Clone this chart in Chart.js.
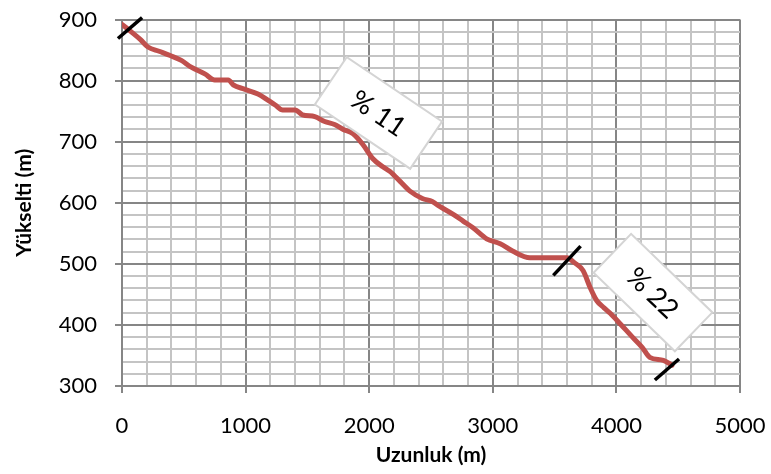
<!DOCTYPE html>
<html>
<head>
<meta charset="utf-8">
<script src="https://cdn.jsdelivr.net/npm/chart.js@4"></script>
<style>
  html, body { margin: 0; padding: 0; background: #fff; }
  #wrap { width: 771px; height: 474px; }
</style>
</head>
<body>
<div id="wrap"><canvas id="myChart"></canvas></div>
<script>
const distance = [0, 80, 150, 210, 300, 390, 480, 560, 670, 750, 860, 900, 990, 1100, 1180, 1240, 1300, 1400, 1460, 1560, 1640, 1720, 1790, 1870, 1950, 2030, 2110, 2170, 2250, 2330, 2430, 2510, 2570, 2680, 2760, 2840, 2950, 3060, 3160, 3300, 3600, 3660, 3730, 3790, 3840, 3900, 3950, 4030, 4130, 4210, 4270, 4380, 4450]
const elevation = [892, 879, 867, 855, 848, 841, 833, 822, 811, 801, 801, 793, 786, 778, 768, 760, 752, 752, 744, 741, 733, 728, 720, 713, 695, 672, 659, 651, 635, 619, 607, 602, 594, 581, 570, 559, 541, 533, 521, 510, 510, 502, 489, 460, 440, 428, 419, 402, 380, 363, 347, 342, 334]

const markerDistance = [65, 3600, 4409]
const markerElevation = [886, 505, 327]

const noteTexts = ["% 11", "% 22"]
const noteDistance = [2075, 4296]
const noteElevation = [747, 453]
const noteAngles = [34, 44]

const xTitle = "Uzunluk (m)"
const yTitle = "Yükselti (m)"

const lineColor = '#c0504d'
const majorGrid = '#868686'
const minorGrid = '#c4c4c4'
const tickFont = { family: 'Lato', size: 22 }
const titleFont = { family: 'Lato', size: 21, weight: 'bold' }

const notesPlugin = {
  id: 'notes',
  afterDatasetsDraw(chart) {
    const ctx = chart.ctx
    const xs = chart.scales.x
    const ys = chart.scales.y
    const sizes = [[115, 57], [113, 54]]
    noteTexts.forEach((txt, i) => {
      const cx = xs.getPixelForValue(noteDistance[i])
      const cy = ys.getPixelForValue(noteElevation[i])
      const w = sizes[i][0], h = sizes[i][1]
      ctx.save()
      ctx.translate(cx, cy)
      ctx.rotate(noteAngles[i] * Math.PI / 180)
      ctx.fillStyle = '#fff'
      ctx.strokeStyle = '#d4d4d4'
      ctx.lineWidth = 2
      ctx.fillRect(-w / 2, -h / 2, w, h)
      ctx.strokeRect(-w / 2, -h / 2, w, h)
      ctx.fillStyle = '#000'
      ctx.font = '27px Lato'
      ctx.textAlign = 'center'
      ctx.textBaseline = 'middle'
      ctx.fillText(txt, 0, 1)
      ctx.restore()
    })
  }
}

new Chart("myChart", {
  type: "line",
  data: {
    datasets: [{
      data: distance.map((d, i) => ({ x: d, y: elevation[i] })),
      borderColor: lineColor,
      borderWidth: 5,
      borderJoinStyle: 'round',
      borderCapStyle: 'round',
      pointRadius: 0,
      cubicInterpolationMode: 'monotone',
      order: 2
    }, {
      data: markerDistance.map((d, i) => ({ x: d, y: markerElevation[i] })),
      showLine: false,
      pointStyle: 'line',
      pointRadius: [16, 20, 16],
      pointRotation: [-41, -47, -41],
      pointBorderColor: '#000',
      pointBorderWidth: 3.5,
      clip: false,
      order: 1
    }]
  },
  options: {
    responsive: true,
    maintainAspectRatio: false,
    animation: false,
    layout: { padding: { left: 12, top: 17, right: 31, bottom: 6 } },
    plugins: {
      legend: { display: false },
      tooltip: { enabled: false }
    },
    scales: {
      x: {
        type: 'linear',
        min: 0,
        max: 5000,
        afterFit: scale => {
          scale.height = 82
          scale.paddingLeft = 0
          scale.paddingRight = 0
        },
        ticks: {
          stepSize: 200,
          autoSkip: false,
          maxRotation: 0,
          padding: 20,
          color: '#000',
          font: tickFont,
          callback: v => v % 1000 === 0 ? v : ''
        },
        grid: {
          color: c => c.tick && c.tick.value % 1000 === 0 ? majorGrid : minorGrid,
          lineWidth: 2,
          tickLength: 7,
          tickColor: c => c.tick && c.tick.value % 1000 === 0 ? majorGrid : 'rgba(0,0,0,0)'
        },
        border: { color: majorGrid, width: 2 },
        title: { display: true, text: xTitle, color: '#000', font: titleFont, padding: 0 }
      },
      y: {
        min: 300,
        max: 900,
        afterFit: scale => {
          scale.width = 110
          scale.paddingTop = 0
          scale.paddingBottom = 0
        },
        ticks: {
          stepSize: 20,
          autoSkip: false,
          padding: 18,
          color: '#000',
          font: tickFont,
          callback: v => v % 100 === 0 ? v : ''
        },
        grid: {
          color: c => c.tick && c.tick.value % 100 === 0 ? majorGrid : minorGrid,
          lineWidth: 2,
          tickLength: 7,
          tickColor: c => c.tick && c.tick.value % 100 === 0 ? majorGrid : 'rgba(0,0,0,0)'
        },
        border: { color: majorGrid, width: 2 },
        title: { display: true, text: yTitle, color: '#000', font: titleFont, padding: 0 }
      }
    }
  },
  plugins: [notesPlugin]
});
</script>
</body>
</html>
